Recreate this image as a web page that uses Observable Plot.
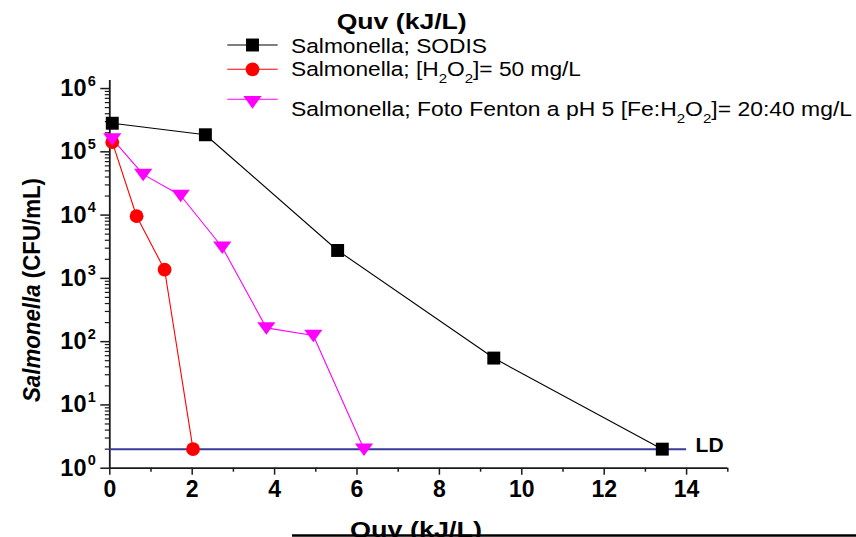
<!DOCTYPE html>
<html><head><meta charset="utf-8">
<script src="https://cdn.jsdelivr.net/npm/d3@7"></script>
<script src="https://cdn.jsdelivr.net/npm/@observablehq/plot@0.6"></script>
<style>body{margin:0;background:#fff}#chart svg{display:block}</style>
</head><body><div id="chart"></div>
<script>
// ---- data ----
const sodisQ = [0.06, 2.32, 5.53, 9.32, 13.41];
const sodisC = [2.83e5, 1.86e5, 2.76e3, 55, 2];
const h2o2Q = [0.06, 0.65, 1.33, 2.02];
const h2o2C = [1.42e5, 9.6e3, 1.37e3, 2];
const fentonQ = [0.06, 0.81, 1.72, 2.73, 3.80, 4.94, 6.17];
const fentonC = [1.6e5, 4.4e4, 2.04e4, 3.1e3, 165, 125, 2];
const ldValue = 2;
const ldRange = [0, 14];
const ldLabel = "LD";
const xMajor = [0, 2, 4, 6, 8, 10, 12, 14];
const xMinor = [1, 3, 5, 7, 9, 11, 13, 15];
const yExponents = [0, 1, 2, 3, 4, 5, 6];
const xTitle = "Quv (kJ/L)";
const seriesKeys = ["sodis", "h2o2", "fenton"];

const FONT = "'Liberation Sans', Arial, Helvetica, sans-serif";
const colors = {sodis: "#000000", h2o2: "#ff0000", fenton: "#ff00ff"};
const AX = "#1a1a1a";

const rows = [
  ...sodisQ.map((q, i) => ({series: "sodis", q, c: sodisC[i]})),
  ...h2o2Q.map((q, i) => ({series: "h2o2", q, c: h2o2C[i]})),
  ...fentonQ.map((q, i) => ({series: "fenton", q, c: fentonC[i]}))
];
const yMinor = [];
for (let e = 0; e < 6; e++) for (let m = 2; m <= 9; m++) yMinor.push(m * 10 ** e);

const triDown = {
  draw(ctx, size) {
    const r = Math.sqrt(size / Math.PI);
    ctx.moveTo(-1.2 * r, -0.75 * r);
    ctx.lineTo(1.2 * r, -0.75 * r);
    ctx.lineTo(0, 0.9 * r);
    ctx.closePath();
  }
};

const chart = Plot.plot({
  width: 856, height: 537,
  marginLeft: 109.3, marginRight: 128.7, marginTop: 80, marginBottom: 69.3,
  x: {domain: [0, 15]},
  y: {type: "log", domain: [1, 1.34e6]},
  style: {fontFamily: FONT, background: "#fff", color: "#000"},
  marks: [
    Plot.axisX({ticks: xMajor, tickSize: 7, tickPadding: 5, fontSize: 23, fontWeight: "bold", label: null, stroke: AX, strokeWidth: 1.5, tickFormat: d => String(d)}),
    Plot.axisX({ticks: xMinor, tickSize: 4, label: null, stroke: AX, strokeWidth: 1.5, tickFormat: () => ""}),
    Plot.axisY({ticks: yExponents.map(e => 10 ** e), tickSize: 9, label: null, stroke: AX, strokeWidth: 1.5, tickFormat: () => ""}),
    Plot.axisY({ticks: yMinor, tickSize: 4.5, label: null, stroke: AX, strokeWidth: 1.2, tickFormat: () => ""}),
    Plot.ruleX([0], {stroke: AX, strokeWidth: 1.8}),
    Plot.ruleY([1], {x1: () => 0, x2: () => 15, stroke: AX, strokeWidth: 1.8}),
    Plot.text(yExponents, {frameAnchor: "left", y: e => 10 ** e, text: () => "10", textAnchor: "end", dx: -23.3, fontSize: 23.5, fontWeight: "bold"}),
    Plot.text(yExponents, {frameAnchor: "left", y: e => 10 ** e, text: e => String(e), textAnchor: "start", dx: -22, dy: -3, lineAnchor: "bottom", fontSize: 14.5, fontWeight: "bold"}),
    Plot.ruleY([ldValue], {y: d => d, x1: () => ldRange[0], x2: () => ldRange[1], stroke: "#3a3a98", strokeWidth: 2}),
    Plot.text([ldValue], {x: () => ldRange[1], y: d => d, text: () => ldLabel, dx: 9, dy: 3, lineAnchor: "bottom", textAnchor: "start", fontSize: 21, fontWeight: "bold"}),
    Plot.line(rows, {x: "q", y: "c", z: "series", stroke: d => colors[d.series], strokeWidth: 1.1}),
    Plot.dot(rows.filter(d => d.series === "sodis"), {x: "q", y: "c", symbol: "square", r: 7.3, fill: colors.sodis, stroke: "none"}),
    Plot.dot(rows.filter(d => d.series === "h2o2"), {x: "q", y: "c", symbol: "circle", r: 6.9, fill: colors.h2o2, stroke: "none"}),
    Plot.dot(rows.filter(d => d.series === "fenton"), {x: "q", y: "c", symbol: triDown, r: 7.6, fill: colors.fenton, stroke: "none"})
  ]
});

// ---- annotations: titles and legend ----
const svg = d3.select(chart);
const g = svg.append("g").attr("font-family", FONT).attr("fill", "#000").attr("text-anchor", "start");

g.append("text").attr("x", 336.7).attr("y", 29.3).attr("font-size", 22).attr("font-weight", "bold")
  .attr("textLength", 130).attr("lengthAdjust", "spacingAndGlyphs").text(xTitle);

g.append("text").attr("x", 350).attr("y", 537).attr("font-size", 22).attr("font-weight", "bold")
  .attr("textLength", 132).attr("lengthAdjust", "spacingAndGlyphs").text(xTitle);
g.append("line").attr("x1", 292).attr("x2", 856).attr("y1", 535.5).attr("y2", 535.5)
  .attr("stroke", "#000").attr("stroke-width", 2.5);

const yt = g.append("text").attr("transform", "translate(40,402) rotate(-90)")
  .attr("font-size", 23).attr("font-weight", "bold")
  .attr("textLength", 224).attr("lengthAdjust", "spacingAndGlyphs");
yt.append("tspan").attr("font-style", "italic").text("Salmonella");
yt.append("tspan").text(" (CFU/mL)");

const legendRows = [
  {key: "sodis", ly: 45, ty: 52.7, len: 196, parts: [["Salmonella; SODIS", 0]]},
  {key: "h2o2", ly: 69.3, ty: 75.7, len: 290, parts: [["Salmonella; [H", 0], ["2", 1], ["O", 0], ["2", 1], ["]= 50 mg/L", 0]]},
  {key: "fenton", ly: 99.3, ty: 115.7, len: 561, parts: [["Salmonella; Foto Fenton a pH 5 [Fe:H", 0], ["2", 1], ["O", 0], ["2", 1], ["]= 20:40 mg/L", 0]]}
];
const symFor = {sodis: d3.symbolSquare, h2o2: d3.symbolCircle, fenton: triDown};
const rFor = {sodis: 7.3, h2o2: 6.9, fenton: 7.6};
for (const row of legendRows) {
  g.append("line").attr("x1", 227.3).attr("x2", 277.7).attr("y1", row.ly).attr("y2", row.ly)
    .attr("stroke", colors[row.key]).attr("stroke-width", 1.1);
  const r = rFor[row.key];
  g.append("path").attr("transform", `translate(252.5,${row.ly + (row.key === "fenton" ? 2.5 : 0)})`)
    .attr("d", d3.symbol(symFor[row.key], r * r * Math.PI)()).attr("fill", colors[row.key]);
  const t = g.append("text").attr("x", 291).attr("y", row.ty).attr("font-size", 20.5)
    .attr("textLength", row.len).attr("lengthAdjust", "spacingAndGlyphs");
  let shifted = false;
  for (const [s, sub] of row.parts) {
    const sp = t.append("tspan").text(s);
    if (sub && !shifted) { sp.attr("dy", 7).attr("font-size", 13.5); shifted = true; }
    else if (sub) { sp.attr("font-size", 13.5); }
    else if (!sub && shifted) { sp.attr("dy", -7); shifted = false; }
  }
}

document.getElementById("chart").appendChild(chart);
</script>
</body></html>
